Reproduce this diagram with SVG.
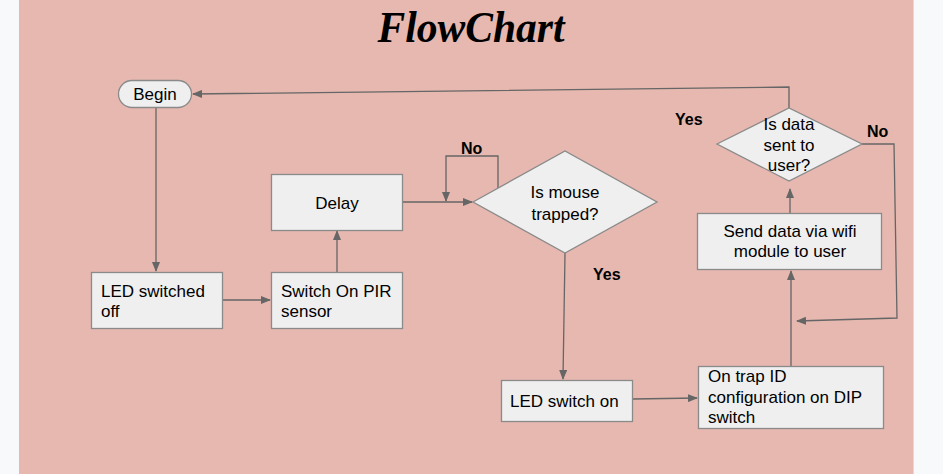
<svg xmlns="http://www.w3.org/2000/svg" width="943" height="474" viewBox="0 0 943 474">
<defs>
<marker id="ah" markerWidth="10" markerHeight="8" refX="9" refY="4" orient="auto" markerUnits="userSpaceOnUse">
<path d="M0,0 L10,4 L0,8 z" fill="#666"/>
</marker>
<style>
.n{fill:#efefef;stroke:#8a8a8a;stroke-width:1.3}
.t{font-family:"Liberation Sans",Arial,sans-serif;font-size:17px;fill:#000}
.c{text-anchor:middle}
.b{font-weight:bold;font-size:16px}
.e{fill:none;stroke:#666;stroke-width:1.3;marker-end:url(#ah)}
</style>
</defs>
<rect x="0" y="0" width="943" height="474" fill="#f8f9fa"/>
<rect x="19" y="0" width="894" height="474" fill="#e6b8af"/>
<line x1="913.5" y1="0" x2="913.5" y2="474" stroke="#dadce0" stroke-width="1"/>
<text id="title" x="471" y="42" text-anchor="middle" font-family="'Liberation Serif',serif" font-weight="bold" font-style="italic" font-size="44" textLength="187" lengthAdjust="spacingAndGlyphs">FlowChart</text>
<g id="connectors">
<polyline class="e" points="789,108 789,87 193,94"/>
<line class="e" x1="156" y1="107" x2="156" y2="271"/>
<line class="e" x1="223" y1="300" x2="270" y2="300"/>
<line class="e" x1="337" y1="272" x2="337" y2="231"/>
<line class="e" x1="402" y1="202" x2="472" y2="202"/>
<polyline class="e" points="498,188 498,156 446,156 446,201"/>
<line class="e" x1="565" y1="253" x2="563" y2="379"/>
<line class="e" x1="633" y1="399" x2="697" y2="398"/>
<line class="e" x1="791" y1="366" x2="791" y2="271"/>
<line class="e" x1="790" y1="213" x2="790" y2="189"/>
<polyline class="e" points="862,144 894,144 897,318 797,321"/>
<text class="t b" x="461" y="154">No</text>
<text class="t b" x="593" y="280">Yes</text>
<text class="t b" x="675" y="125">Yes</text>
<text class="t b" x="867" y="137">No</text>
</g>
<g id="begin">
<rect class="n" x="118.5" y="80.5" width="73" height="27" rx="13.5"/>
<text class="t c" x="155" y="100">Begin</text>
</g>
<g id="led-off">
<rect class="n" x="91.5" y="272.5" width="131" height="56"/>
<text class="t" x="101" y="297">LED switched</text>
<text class="t" x="101" y="317">off</text>
</g>
<g id="pir">
<rect class="n" x="271.5" y="272.5" width="131" height="56"/>
<text class="t" x="281" y="297">Switch On PIR</text>
<text class="t" x="281" y="317">sensor</text>
</g>
<g id="delay">
<rect class="n" x="271.5" y="174.5" width="131" height="56"/>
<text class="t c" x="337" y="209">Delay</text>
</g>
<g id="mouse">
<polygon class="n" points="473,202 565,151 657,202 565,253"/>
<text class="t c" x="565" y="198">Is mouse</text>
<text class="t c" x="565" y="220">trapped?</text>
</g>
<g id="led-on">
<rect class="n" x="501.5" y="380.5" width="131" height="41"/>
<text class="t" x="510" y="407">LED switch on</text>
</g>
<g id="trap">
<rect class="n" x="698.5" y="366.5" width="185" height="62"/>
<text class="t" x="708" y="382">On trap ID</text>
<text class="t" x="708" y="403">configuration on DIP</text>
<text class="t" x="708" y="423">switch</text>
</g>
<g id="send">
<rect class="n" x="697.5" y="213.5" width="184" height="56"/>
<text class="t c" x="790" y="237">Send data via wifi</text>
<text class="t c" x="790" y="257">module to user</text>
</g>
<g id="sent">
<polygon class="n" points="717,144 789,108 862,144 789,181"/>
<text class="t c" x="789" y="130">Is data</text>
<text class="t c" x="789" y="151">sent to</text>
<text class="t c" x="789" y="171">user?</text>
</g>
</svg>
